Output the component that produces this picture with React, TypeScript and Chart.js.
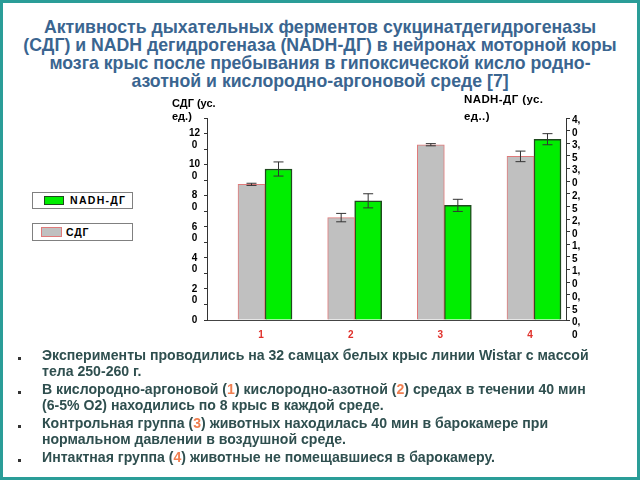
import React, { useEffect, useRef } from 'react';
import { Chart, registerables } from 'chart.js';

Chart.register(...registerables);

// ---- data ----
const groups = ['1', '2', '3', '4'];
const groupX = [1, 2, 3, 4];
const sdgLabel = 'СДГ';
const nadhLabel = 'NADH-ДГ';
const sdgValues = [87.3, 65.9, 112.8, 105.3];
const sdgErrors = [0.7, 2.7, 0.7, 3.4];
const nadhValues = [2.99, 2.36, 2.27, 3.58];
const nadhErrors = [0.14, 0.14, 0.12, 0.11];
const sdgAxisMax = 130;
const nadhAxisMax = 4;

const FONT = '"Liberation Sans", Arial, sans-serif';

const errorBarPlugin = {
  id: 'errorBars',
  afterDatasetsDraw(chart: any) {
    const ctx = chart.ctx;
    chart.data.datasets.forEach((ds: any, i: number) => {
      const meta = chart.getDatasetMeta(i);
      const yScale = chart.scales[ds.yAxisID];
      const errs: number[] = ds.errors || [];
      meta.data.forEach((bar: any, j: number) => {
        const v = ds.data[j].y;
        const e = errs[j] || 0;
        const x = bar.x;
        const yTop = yScale.getPixelForValue(v + e);
        const yBot = yScale.getPixelForValue(v - e);
        ctx.save();
        ctx.strokeStyle = '#333';
        ctx.lineWidth = 1;
        ctx.beginPath();
        ctx.moveTo(x, yTop);
        ctx.lineTo(x, yBot);
        ctx.moveTo(x - 5, yTop);
        ctx.lineTo(x + 5, yTop);
        ctx.moveTo(x - 5, yBot);
        ctx.lineTo(x + 5, yBot);
        ctx.stroke();
        ctx.restore();
      });
    });
  },
};

function ChartCanvas() {
  const ref = useRef<HTMLCanvasElement | null>(null);
  useEffect(() => {
    if (!ref.current) return;
    const tickFont = { family: FONT, weight: 'bold' as const, size: 10 };
    const chart = new Chart(ref.current, {
      type: 'bar',
      data: {
        datasets: [
          {
            label: sdgLabel,
            data: sdgValues.map((y, i) => ({ x: groupX[i], y })),
            errors: sdgErrors,
            yAxisID: 'ySdg',
            backgroundColor: '#c0c0c0',
            borderColor: '#e07a7a',
            borderWidth: 1,
            barThickness: 27,
          } as any,
          {
            label: nadhLabel,
            data: nadhValues.map((y, i) => ({ x: groupX[i], y })),
            errors: nadhErrors,
            yAxisID: 'yNadh',
            backgroundColor: '#00ee00',
            borderColor: '#1e4a1e',
            borderWidth: 1.5,
            barThickness: 27,
          } as any,
        ],
      },
      options: {
        animation: false,
        responsive: false,
        maintainAspectRatio: false,
        layout: { padding: { top: 30, left: 0, right: 0, bottom: 0 } },
        plugins: {
          legend: { display: false },
          tooltip: { enabled: false },
        },
        scales: {
          x: {
            type: 'linear',
            min: 0.353,
            max: 4.357,
            offset: false,
            grid: { display: false, drawTicks: false },
            border: { display: true, color: '#444', width: 1 },
            ticks: {
              stepSize: 1,
              includeBounds: false,
              autoSkip: false,
              maxRotation: 0,
              padding: 9,
              labelOffset: -4,
              color: '#e0302a',
              font: tickFont,
              callback: (v: any) => {
                const idx = groupX.indexOf(Number(v));
                return idx >= 0 ? groups[idx] : '';
              },
            },
            afterFit: (s: any) => {
              s.height = 30;
            },
          },
          ySdg: {
            type: 'linear',
            axis: 'y',
            position: 'left',
            min: 0,
            max: sdgAxisMax,
            grid: { drawOnChartArea: false, drawTicks: true, tickLength: 3, color: '#333' },
            border: { display: true, color: '#333', width: 1 },
            ticks: {
              stepSize: 10,
              autoSkip: false,
              crossAlign: 'center',
              padding: 4,
              color: '#000',
              font: { ...tickFont, lineHeight: 1.15 },
              callback: (value: any) => {
                const v = Math.round(Number(value));
                if (v % 20 !== 0) return '';
                const s = String(v);
                if (s.length === 1) return s;
                return ['', s.slice(0, -1), s.slice(-1)];
              },
            },
            afterFit: (s: any) => {
              s.width = 57;
            },
          },
          yNadh: {
            type: 'linear',
            axis: 'y',
            position: 'right',
            min: 0,
            max: nadhAxisMax,
            grid: { drawOnChartArea: false, drawTicks: true, tickLength: 4, color: '#333' },
            border: { display: true, color: '#333', width: 1 },
            ticks: {
              stepSize: 0.25,
              autoSkip: false,
              padding: 2,
              labelOffset: 2,
              color: '#000',
              font: { ...tickFont, lineHeight: 1.3 },
              callback: (value: any) => {
                const q = Math.round(Number(value) * 4);
                if (q % 2 !== 0) return '';
                const s = (q / 4).toFixed(1).replace('.', ',');
                return ['', s.slice(0, 2), s.slice(2)];
              },
            },
            afterFit: (s: any) => {
              s.width = 44;
            },
          },
        } as any,
      },
      plugins: [errorBarPlugin],
    } as any);
    return () => chart.destroy();
  }, []);
  return (
    <canvas
      ref={ref}
      width={460}
      height={262}
      style={{ position: 'absolute', left: 150, top: 88, width: 460, height: 262 }}
    />
  );
}

const orange = { color: '#f07f50' };

export default function App() {
  const bulletStyle: React.CSSProperties = {
    position: 'absolute',
    left: -24,
    top: 9,
    width: 3,
    height: 3,
    background: '#333',
  };
  const para: React.CSSProperties = { position: 'relative', margin: '0 0 3px 0', whiteSpace: 'nowrap' };
  return (
    <div
      style={{
        position: 'fixed',
        left: 0,
        top: 0,
        width: 640,
        height: 480,
        background: '#fff',
        overflow: 'hidden',
        fontFamily: FONT,
      }}
    >
      <div
        style={{
          position: 'absolute',
          left: 0,
          top: 18,
          width: 640,
          textAlign: 'center',
          fontWeight: 'bold',
          fontSize: 17.7,
          lineHeight: '18px',
          color: '#3a6590',
          whiteSpace: 'nowrap',
        }}
      >
        <div>Активность дыхательных ферментов сукцинатдегидрогеназы</div>
        <div>(СДГ) и NADH дегидрогеназа (NADH-ДГ) в нейронах моторной коры</div>
        <div>мозга крыс после пребывания в гипоксической кисло родно-</div>
        <div>азотной и кислородно-аргоновой среде [7]</div>
      </div>

      <ChartCanvas />

      <div
        style={{
          position: 'absolute',
          left: 172,
          top: 97,
          fontWeight: 'bold',
          fontSize: 11,
          lineHeight: '13px',
          color: '#000',
          whiteSpace: 'nowrap',
        }}
      >
        <div>СДГ (ус.</div>
        <div>ед.)</div>
      </div>
      <div
        style={{
          position: 'absolute',
          left: 464,
          top: 91,
          fontWeight: 'bold',
          fontSize: 11.5,
          letterSpacing: 0.4,
          lineHeight: '17px',
          color: '#000',
          whiteSpace: 'nowrap',
        }}
      >
        <div>NADH-ДГ (ус.</div>
        <div>ед..)</div>
      </div>

      <div
        style={{
          position: 'absolute',
          left: 32,
          top: 192,
          width: 101,
          height: 17,
          boxSizing: 'border-box',
          border: '1px solid #808080',
        }}
      >
        <div
          style={{
            position: 'absolute',
            left: 11,
            top: 3,
            width: 20,
            height: 9,
            boxSizing: 'border-box',
            background: '#00ee00',
            border: '1px solid #1e4a1e',
          }}
        />
        <div
          style={{
            position: 'absolute',
            left: 37,
            top: 0,
            lineHeight: '15px',
            fontSize: 10.5,
            fontWeight: 'bold',
            letterSpacing: 1.3,
            color: '#000',
            whiteSpace: 'nowrap',
          }}
        >
          {nadhLabel}
        </div>
      </div>
      <div
        style={{
          position: 'absolute',
          left: 32,
          top: 223,
          width: 101,
          height: 18,
          boxSizing: 'border-box',
          border: '1px solid #808080',
        }}
      >
        <div
          style={{
            position: 'absolute',
            left: 8,
            top: 3,
            width: 21,
            height: 10,
            boxSizing: 'border-box',
            background: '#c0c0c0',
            border: '1px solid #e07a7a',
          }}
        />
        <div
          style={{
            position: 'absolute',
            left: 33,
            top: 0,
            lineHeight: '16px',
            fontSize: 10.5,
            fontWeight: 'bold',
            letterSpacing: 0.8,
            color: '#000',
            whiteSpace: 'nowrap',
          }}
        >
          {sdgLabel}
        </div>
      </div>

      <div
        style={{
          position: 'absolute',
          left: 42,
          top: 348,
          fontWeight: 'bold',
          fontSize: 14.1,
          lineHeight: '15.5px',
          color: '#2f4f4f',
        }}
      >
        <div style={para}>
          <span style={bulletStyle} />
          Эксперименты проводились на 32 самцах белых крыс линии Wistar с массой
          <br />
          тела 250-260 г.
        </div>
        <div style={para}>
          <span style={bulletStyle} />
          В кислородно-аргоновой (<span style={orange}>1</span>) кислородно-азотной (<span style={orange}>2</span>) средах в течении 40 мин
          <br />
          (6-5% O2) находились по 8 крыс в каждой среде.
        </div>
        <div style={para}>
          <span style={bulletStyle} />
          Контрольная группа (<span style={orange}>3</span>) животных находилась 40 мин в барокамере при
          <br />
          нормальном давлении в воздушной среде.
        </div>
        <div style={para}>
          <span style={bulletStyle} />
          Интактная группа (<span style={orange}>4</span>) животные не помещавшиеся в барокамеру.
        </div>
      </div>

      <div
        style={{
          position: 'absolute',
          left: 0,
          top: 0,
          width: 640,
          height: 480,
          boxSizing: 'border-box',
          border: '3px solid #2a9d98',
          pointerEvents: 'none',
        }}
      />
    </div>
  );
}
